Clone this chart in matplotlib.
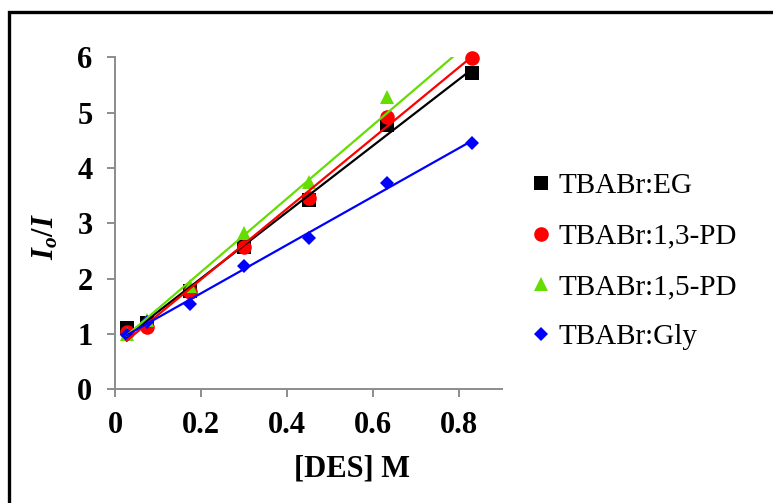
import numpy as np
import matplotlib
matplotlib.use("Agg")
import matplotlib.pyplot as plt
from matplotlib.patches import Rectangle

# DES concentration (M)
conc = [0.026, 0.074, 0.174, 0.300, 0.450, 0.632, 0.830]

# Io/I quenching ratios for each deep eutectic solvent
eg = [1.10, 1.20, 1.77, 2.57, 3.42, 4.78, 5.72]
pd13 = [1.04, 1.13, 1.76, 2.57, 3.45, 4.93, 5.98]
pd15 = [1.00, 1.25, 1.87, 2.82, 3.75, 5.29, 6.10]
gly = [0.99, 1.22, 1.55, 2.23, 2.74, 3.72, 4.46]

labels = ["TBABr:EG", "TBABr:1,3-PD", "TBABr:1,5-PD", "TBABr:Gly"]
colors = ["#000000", "#FF0000", "#66DD00", "#0000FF"]
markers = ["s", "o", "^", "D"]
msizes = [9.5, 10.5, 10.5, 7.5]

xticks = [0, 0.2, 0.4, 0.6, 0.8]
yticks = [0, 1, 2, 3, 4, 5, 6]
y_max = 6

plt.rcParams["font.family"] = ["Liberation Serif", "DejaVu Serif"]
plt.rcParams["mathtext.fontset"] = "custom"
plt.rcParams["mathtext.it"] = "Liberation Serif:italic:bold"
plt.rcParams["mathtext.rm"] = "Liberation Serif:bold"

fig = plt.figure(figsize=(7.73, 5.03), dpi=100)
ax = fig.add_axes([0.1493, 0.2260, 0.6494 - 0.1493, 0.8861 - 0.2260])

x = np.array(conc)
handles = []
for ys, lab, c, m, ms in zip([eg, pd13, pd15, gly], labels, colors, markers, msizes):
    y = np.array(ys)
    # points beyond the axis maximum are not drawn, but still enter the fit
    shown = y <= y_max
    h, = ax.plot(x[shown], y[shown], linestyle="none", marker=m, color=c,
                 markersize=ms, markeredgewidth=0, label=lab, zorder=3,
                 clip_on=False)
    handles.append(h)
    k, b = np.polyfit(x, y, 1)
    xf = np.array([x.min(), x.max()])
    ax.plot(xf, k * xf + b, color=c, linewidth=1.6, zorder=4)

ax.set_xlim(0, 0.9)
ax.set_ylim(0, y_max)
ax.set_xticks(xticks)
ax.set_xticklabels(["0", "0.2", "0.4", "0.6", "0.8"])
ax.set_yticks(yticks)

for s in ["top", "right"]:
    ax.spines[s].set_visible(False)
for s in ["left", "bottom"]:
    ax.spines[s].set_color("#8c8c8c")
    ax.spines[s].set_linewidth(1.4)

ax.tick_params(axis="both", direction="out", length=5.5, width=1.4, color="#8c8c8c",
               labelsize=22)
ax.tick_params(axis="y", pad=11)
ax.tick_params(axis="x", pad=10)
for t in ax.get_xticklabels() + ax.get_yticklabels():
    t.set_fontweight("bold")

fig.text(352 / 773, 1 - 469 / 503, "[DES] M", fontsize=22, fontweight="bold",
         ha="center", va="center")
fig.text(46 / 773, 1 - 237 / 503, r"$I_o/I$", fontsize=22, rotation=90,
         ha="center", va="center")

leg = fig.legend(handles=handles, labels=labels, loc="upper left",
                 bbox_to_anchor=(532 / 773, 1 - 173 / 503), frameon=False,
                 fontsize=21, handlelength=0.6, handletextpad=0.3,
                 labelspacing=0.82, borderaxespad=0, borderpad=0)

# outer frame around the figure
fig.patches.append(Rectangle((8.5 / 773, -0.1), 1.2, (1 - 11.5 / 503) + 0.1,
                             transform=fig.transFigure, fill=False,
                             edgecolor="black", linewidth=2.4, zorder=10))

fig.savefig("out.png", dpi=100)
